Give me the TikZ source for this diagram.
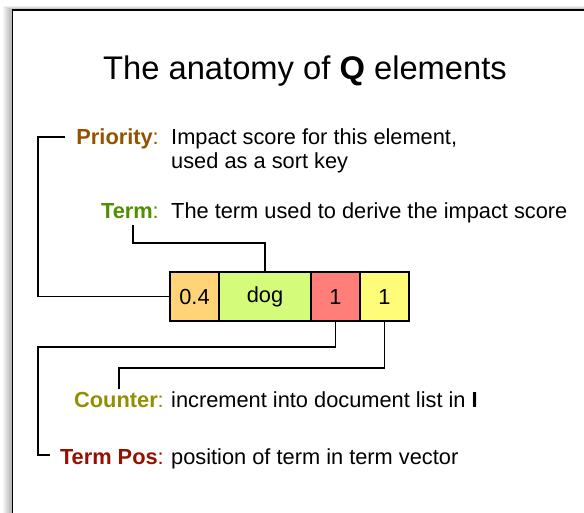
\documentclass[tikz,border=0pt]{standalone}
\usepackage{fontspec}
\setmainfont{Liberation Sans}
\definecolor{mocha}{HTML}{945200}
\definecolor{fern}{HTML}{4F8F00}
\definecolor{asparagus}{HTML}{929000}
\definecolor{cayenne}{HTML}{941100}
\definecolor{cantaloupe}{HTML}{FFD479}
\definecolor{honeydew}{HTML}{D4FB79}
\definecolor{salmonc}{HTML}{FF7E79}
\definecolor{banana}{HTML}{FFFC79}
\newcommand\bodyfs{\fontsize{21.8}{24}\selectfont}
\tikzset{
  txt/.style={inner sep=0pt, font=\bodyfs},
  lbl/.style={txt, anchor=base east},
  desc/.style={txt, anchor=base west},
  cell/.style={draw=black, line width=1.3pt, minimum height=49pt, inner sep=0pt, outer sep=0pt, anchor=west, font=\bodyfs},
  conn/.style={draw=black, line width=1.3pt},
}
\begin{document}
\begin{tikzpicture}[x=1pt,y=-1pt]
\useasboundingbox (0,0) rectangle (584,512);
\clip (0,0) rectangle (584,512);
% shadow
\foreach \k in {1,...,10}{
  \fill[black,opacity=0.035] (12.5-\k,10-0.4*\k) rectangle (600,600);
}
\fill[white] (12.5,10) rectangle (600,600);
\draw[line width=1.8pt] (12.5,600) -- (12.5,10) -- (600,10);
% title
\node[inner sep=0pt, anchor=base, font=\fontsize{32.7}{36}\selectfont] (title) at (305,79) {The anatomy of \textbf{Q} elements};
% labels
\node[lbl] (plbl) at (159,144) {\textbf{\color{mocha}Priority}\color{mocha}:};
\node[desc] (pdesc) at (171,144) {\begin{tabular}[t]{@{}l@{}}Impact score for this element,\\[0pt] used as a sort key\end{tabular}};
\node[lbl] (tlbl) at (159,218) {\textbf{\color{fern}Term}\color{fern}:};
\node[desc] (tdesc) at (171,218) {The term used to derive the impact score};
\node[lbl] (clbl) at (164,407) {\textbf{\color{asparagus}Counter}\color{asparagus}:};
\node[desc] (cdesc) at (171,407) {increment into document list in \textbf{I}};
\node[lbl] (tplbl) at (164,464) {\textbf{\color{cayenne}Term Pos}\color{cayenne}:};
\node[desc] (tpdesc) at (171,464) {position of term in term vector};
% cells
\node[cell, fill=cantaloupe, minimum width=49pt] (b1) at (170,296.5) {0.4};
\node[cell, fill=honeydew, minimum width=92pt] (b2) at (b1.east) {dog};
\node[cell, fill=salmonc, minimum width=49pt] (b3) at (b2.east) {1};
\node[cell, fill=banana, minimum width=49pt] (b4) at (b3.east) {1};
% connector ends
\coordinate (pc) at (65,137);
\coordinate (tc) at (133,225);
\coordinate (cc) at (119,389);
\coordinate (tpc) at (50,455);
% connectors
\draw[conn] (pc) -- (38,137) |- (b1.west);
\draw[conn] (tc) |- (b2.north |- 0,243) -- (b2.north);
\draw[conn] (b3.south) |- (38,347) |- (tpc);
\draw[conn] (b4.south) |- (cc |- 0,368) -- (cc);
\end{tikzpicture}
\end{document}
